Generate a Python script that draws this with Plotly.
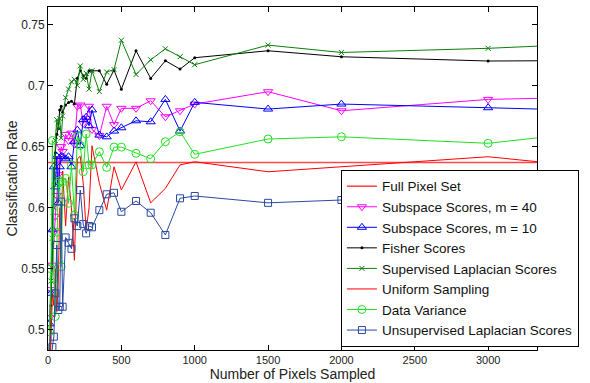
import plotly.graph_objects as go

pixels = [10, 20, 30, 40, 50, 60, 70, 80, 90, 100, 120, 140, 160, 180, 200, 220, 240,
          260, 280, 300, 350, 400, 450, 500, 600, 700, 800, 900, 1000, 1500, 2000, 3000, 4000]

full_pixel_rate = 0.637

subspace_40 = [0.51, 0.533, 0.553, 0.58, 0.593, 0.61, 0.627, 0.64, 0.65, 0.646, 0.66, 0.655,
               0.661, 0.652, 0.683, 0.684, 0.669, 0.673, 0.683, 0.664, 0.659, 0.683, 0.668,
               0.6813, 0.6813, 0.6875, 0.6744, 0.6793, 0.6848, 0.6949, 0.6793, 0.6886, 0.6912]
subspace_10 = [0.505, 0.53, 0.582, 0.6335, 0.617, 0.642, 0.604, 0.6335, 0.642, 0.6417, 0.64,
               0.6417, 0.6335, 0.654, 0.6635, 0.651, 0.672, 0.674, 0.667, 0.68, 0.6594, 0.658,
               0.6627, 0.6654, 0.6711, 0.6703, 0.6886, 0.6627, 0.6862, 0.6807, 0.6848, 0.6818, 0.6786]
fisher = [0.47, 0.52, 0.57, 0.62, 0.645, 0.66, 0.665, 0.68, 0.683, 0.678, 0.684, 0.686, 0.687,
          0.685, 0.706, 0.712, 0.708, 0.706, 0.712, 0.712, 0.712, 0.701, 0.7126, 0.697, 0.7284,
          0.7058, 0.7202, 0.7134, 0.7227, 0.7284, 0.7235, 0.720, 0.7206]
sup_laplacian = [0.47, 0.54, 0.575, 0.60, 0.655, 0.672, 0.665, 0.673, 0.657, 0.675, 0.69, 0.697,
                 0.703, 0.705, 0.70, 0.716, 0.705, 0.71, 0.697, 0.712, 0.695, 0.711, 0.713, 0.737,
                 0.709, 0.721, 0.73, 0.7235, 0.717, 0.733, 0.727, 0.7304, 0.7357]
uniform = [0.45, 0.50, 0.53, 0.52, 0.55, 0.515, 0.54, 0.60, 0.57, 0.63, 0.585, 0.625, 0.60, 0.557,
           0.64, 0.642, 0.62, 0.5817, 0.60, 0.6507, 0.62, 0.598, 0.6335, 0.6145, 0.6376, 0.604,
           0.6158, 0.635, 0.6376, 0.6294, 0.6335, 0.6417, 0.6296]
data_variance = [0.4985, 0.55, 0.655, 0.5425, 0.511, 0.58, 0.62, 0.622, 0.5517, 0.6212, 0.624,
                 0.6036, 0.635, 0.594, 0.6586, 0.651, 0.6294, 0.6603, 0.635, 0.635, 0.6458, 0.633,
                 0.6496, 0.6496, 0.6445, 0.640, 0.654, 0.6621, 0.6437, 0.6562, 0.658, 0.6527, 0.666]
unsup_laplacian = [0.45, 0.47, 0.486, 0.4945, 0.53, 0.5695, 0.5163, 0.519, 0.605, 0.519, 0.5757,
                   0.5713, 0.5664, 0.5913, 0.585, 0.6144, 0.5866, 0.579, 0.585, 0.584, 0.598, 0.611,
                   0.6122, 0.5967, 0.6055, 0.5959, 0.5777, 0.6077, 0.6096, 0.604, 0.6063, 0.607, 0.607]

x_ticks = [0, 500, 1000, 1500, 2000, 2500, 3000]
y_ticks = [0.5, 0.55, 0.6, 0.65, 0.7, 0.75]

FONT = "Liberation Sans, Arial, Helvetica, sans-serif"

fig = go.Figure()

fig.add_trace(go.Scatter(x=[0, 4000], y=[full_pixel_rate, full_pixel_rate], mode="lines",
                         name="Full Pixel Set", line=dict(color="#ff4a4a", width=1.6)))
fig.add_trace(go.Scatter(x=pixels, y=subspace_40, mode="lines+markers", name="Subspace Scores, m = 40",
                         line=dict(color="#ff00ff", width=1),
                         marker=dict(symbol="triangle-down-open", size=8, color="#ff00ff", line=dict(width=1))))
fig.add_trace(go.Scatter(x=pixels, y=subspace_10, mode="lines+markers", name="Subspace Scores, m = 10",
                         line=dict(color="#0000ff", width=1),
                         marker=dict(symbol="triangle-up-open", size=8, color="#0000ff", line=dict(width=1))))
fig.add_trace(go.Scatter(x=pixels, y=fisher, mode="lines+markers", name="Fisher Scores",
                         line=dict(color="#000000", width=1),
                         marker=dict(symbol="circle", size=3, color="#000000")))
fig.add_trace(go.Scatter(x=pixels, y=sup_laplacian, mode="lines+markers", name="Supervised Laplacian Scores",
                         line=dict(color="#0a800a", width=1),
                         marker=dict(symbol="x-thin", size=5, color="#0a800a", line=dict(width=1, color="#0a800a"))))
fig.add_trace(go.Scatter(x=pixels, y=uniform, mode="lines", name="Uniform Sampling",
                         line=dict(color="#ff0000", width=1)))
fig.add_trace(go.Scatter(x=pixels, y=data_variance, mode="lines+markers", name="Data Variance",
                         line=dict(color="#22e022", width=1),
                         marker=dict(symbol="circle-open", size=8, color="#22e022", line=dict(width=1))))
fig.add_trace(go.Scatter(x=pixels, y=unsup_laplacian, mode="lines+markers", name="Unsupervised Laplacian Scores",
                         line=dict(color="#2a4aa0", width=1),
                         marker=dict(symbol="square-open", size=7, color="#2a4aa0", line=dict(width=1))))

axis_common = dict(showline=True, linecolor="black", linewidth=1, mirror="ticks", ticks="inside",
                   ticklen=5, tickcolor="black", showgrid=False, zeroline=False, automargin=False)

fig.update_xaxes(range=[0, 3333], tickvals=x_ticks, tickfont=dict(size=11, color="#222", family=FONT),
                 title=dict(text="Number of Pixels Sampled", font=dict(size=14, color="#222", family=FONT), standoff=2),
                 **axis_common)
fig.update_yaxes(range=[0.4836, 0.7642], tickvals=y_ticks, tickfont=dict(size=12, color="#222", family=FONT),
                 title=dict(text="Classification Rate", font=dict(size=14, color="#222", family=FONT), standoff=0),
                 **axis_common)

fig.update_layout(
    width=590, height=383,
    margin=dict(l=48, r=53, t=7, b=33),
    plot_bgcolor="white", paper_bgcolor="white",
    font=dict(family=FONT, size=13, color="#222"),
    legend=dict(x=0.599, y=0.525, xanchor="left", yanchor="top",
                bgcolor="white", bordercolor="black", borderwidth=1,
                font=dict(size=13.5, color="#111", family=FONT), tracegroupgap=0,
                itemwidth=30),
)

fig.write_html("out.html", config={"displayModeBar": False},
               post_script="document.body.style.margin='0';document.body.style.overflow='hidden';")
